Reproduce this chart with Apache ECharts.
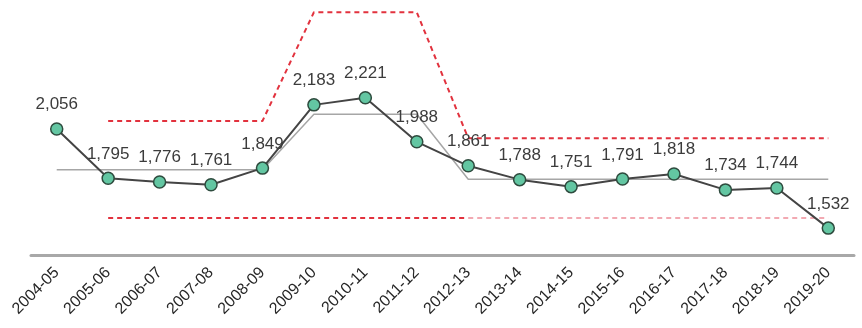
<!DOCTYPE html>
<html>
<head>
<meta charset="utf-8">
<script src="https://cdn.jsdelivr.net/npm/echarts@6/dist/echarts.min.js"></script>
<style>
  html, body { margin: 0; padding: 0; background: #fff; }
  #main { width: 862px; height: 328px; }
</style>
</head>
<body>
<div id="main"></div>
<script>
var years = ['2004-05','2005-06','2006-07','2007-08','2008-09','2009-10','2010-11','2011-12',
  '2012-13','2013-14','2014-15','2015-16','2016-17','2017-18','2018-19','2019-20'];
var values = [2056, 1795, 1776, 1761, 1849, 2183, 2221, 1988, 1861, 1788, 1751, 1791, 1818, 1734, 1744, 1532];
// 平均线 / 上下限（从图上读出来的）
var meanLine = [1840, 1840, 1840, 1840, 1840, 2133, 2133, 2133, 1790, 1790, 1790, 1790, 1790, 1790, 1790, 1790];
var upperLimit = [null, 2098, 2098, 2098, 2098, 2672, 2672, 2672, 2007, 2007, 2007, 2007, 2007, 2007, 2007, 2007];
var lowerLimitA = [null, 1586, 1586, 1586, 1586, 1586, 1586, 1586, 1586, null, null, null, null, null, null, null];
var lowerLimitB = [null, null, null, null, null, null, null, null, 1586, 1586, 1586, 1586, 1586, 1586, 1586, 1586];

var myChart = echarts.init(document.getElementById('main'));
var option = {
  animation: false,
  grid: {
    left: 31,
    right: 8,
    top: 7,
    bottom: 73
  },
  xAxis: {
    type: 'category',
    data: years,
    boundaryGap: true,
    axisLine: { lineStyle: { color: '#a8a8a8', width: 3 } },
    axisTick: { show: false },
    axisLabel: {
      rotate: 45,
      margin: 15,
      interval: 0,
      color: '#262626',
      fontSize: 16,
      fontFamily: 'Liberation Sans, Arial, sans-serif'
    }
  },
  yAxis: {
    type: 'value',
    min: 1390,
    max: 2700,
    show: false,
    splitLine: { show: false }
  },
  series: [
    {
      name: '平均',
      type: 'line',
      data: meanLine,
      symbol: 'none',
      lineStyle: { color: '#a6a6a6', width: 1.5 },
      z: 1
    },
    {
      name: '上限',
      type: 'line',
      data: upperLimit,
      symbol: 'none',
      lineStyle: { color: '#e2323e', width: 2, type: [5, 4] },
      z: 1
    },
    {
      name: '下限',
      type: 'line',
      data: lowerLimitA,
      symbol: 'none',
      lineStyle: { color: '#e2323e', width: 2, type: [5, 4] },
      z: 1
    },
    {
      name: '下限2',
      type: 'line',
      data: lowerLimitB,
      symbol: 'none',
      lineStyle: { color: '#f2a9b2', width: 2, type: [5, 4] },
      z: 1
    },
    {
      name: '数值',
      type: 'line',
      data: values,
      symbol: 'circle',
      symbolSize: 12,
      lineStyle: { color: '#444', width: 2 },
      itemStyle: { color: '#63c6a2', borderColor: '#2e4b3e', borderWidth: 1.5 },
      label: {
        show: true,
        position: 'top',
        distance: 9,
        color: '#3c3c3c',
        fontSize: 17,
        fontFamily: 'Liberation Sans, Arial, sans-serif',
        formatter: function (p) {
          return p.value.toLocaleString('en-US');
        }
      },
      z: 3
    }
  ]
};
myChart.setOption(option, true);
</script>
</body>
</html>
